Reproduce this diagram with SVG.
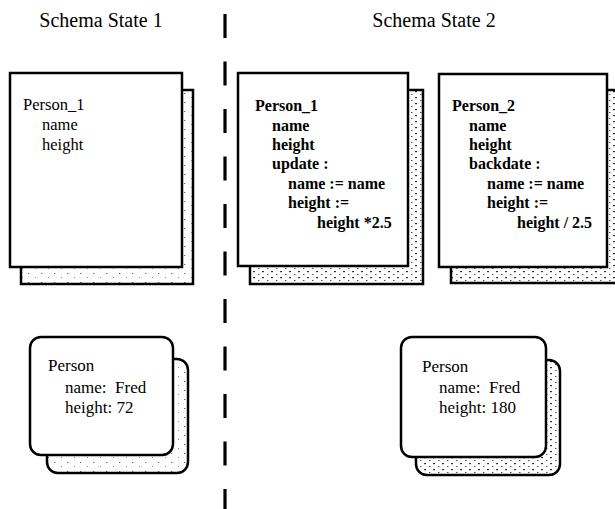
<svg xmlns="http://www.w3.org/2000/svg" width="615" height="509" viewBox="0 0 615 509">
<defs>
<pattern id="stip" width="13" height="9" patternUnits="userSpaceOnUse">
<rect width="13" height="9" fill="#fff"/>
<rect x="2" y="3" width="1.3" height="1" fill="#666"/>
<rect x="9" y="7" width="1" height="1" fill="#888"/>
</pattern>
<pattern id="stip2" width="9" height="6" patternUnits="userSpaceOnUse">
<rect width="9" height="6" fill="#fff"/>
<rect x="1" y="1" width="2" height="1.2" fill="#333"/>
<rect x="6" y="4" width="1.5" height="1" fill="#555"/>
</pattern>
</defs>
<style>
.t{font-family:"Liberation Serif","Times New Roman",serif;fill:#000}
.title{font-size:20px}
.doc{font-size:16.5px}
.docb{font-size:16px;font-weight:bold}
.inst{font-size:17px;white-space:pre}
.box{fill:#fff;stroke:#000;stroke-width:2.5}
.back{fill:url(#stip);stroke:#000;stroke-width:2.5}
.backd{fill:url(#stip2);stroke:#000;stroke-width:2.5}
</style>
<rect width="615" height="509" fill="#fff"/>

<g id="titles">
<text class="t title" x="101" y="27" text-anchor="middle">Schema State 1</text>
<text class="t title" x="434" y="27" text-anchor="middle">Schema State 2</text>
</g>

<g id="connectors">
<line x1="225" y1="14" x2="225" y2="509" stroke="#000" stroke-width="3.2" stroke-dasharray="24 23.5"/>
</g>

<g id="class-left">
<rect class="back" x="21" y="90" width="172" height="194"/>
<rect class="box" x="10" y="73" width="172" height="194"/>
<text class="t doc" x="23" y="110">Person_1</text>
<text class="t doc" x="42" y="130">name</text>
<text class="t doc" x="42" y="150">height</text>
</g>

<g id="class-mid">
<rect class="backd" x="250" y="90" width="173" height="194"/>
<rect class="box" x="238" y="73" width="170" height="193"/>
<text class="t docb" x="255" y="111">Person_1</text>
<text class="t docb" x="272" y="131">name</text>
<text class="t docb" x="272" y="150">height</text>
<text class="t docb" x="272" y="169">update :</text>
<text class="t docb" x="288" y="189">name := name</text>
<text class="t docb" x="288" y="208">height :=</text>
<text class="t docb" x="317" y="228">height *2.5</text>
</g>

<g id="class-right">
<rect class="backd" x="451" y="90" width="170" height="193"/>
<rect class="box" x="439" y="74" width="168" height="193"/>
<text class="t docb" x="452" y="111">Person_2</text>
<text class="t docb" x="469" y="131">name</text>
<text class="t docb" x="469" y="150">height</text>
<text class="t docb" x="469" y="169">backdate :</text>
<text class="t docb" x="487" y="189">name := name</text>
<text class="t docb" x="487" y="208">height :=</text>
<text class="t docb" x="517" y="228">height / 2.5</text>
</g>

<g id="inst-left">
<rect class="back" x="47" y="359" width="141" height="114" rx="11"/>
<rect class="box" x="30" y="337" width="143" height="118" rx="11" stroke-width="3"/>
<text class="t inst" x="48" y="371">Person</text>
<text class="t inst" x="65" y="393">name:  Fred</text>
<text class="t inst" x="65" y="413">height: 72</text>
</g>

<g id="inst-right">
<rect class="backd" x="416" y="360" width="144" height="115" rx="11"/>
<rect class="box" x="401" y="337" width="145" height="120" rx="11" stroke-width="3"/>
<text class="t inst" x="422" y="372">Person</text>
<text class="t inst" x="439" y="393">name:  Fred</text>
<text class="t inst" x="439" y="413">height: 180</text>
</g>
</svg>
